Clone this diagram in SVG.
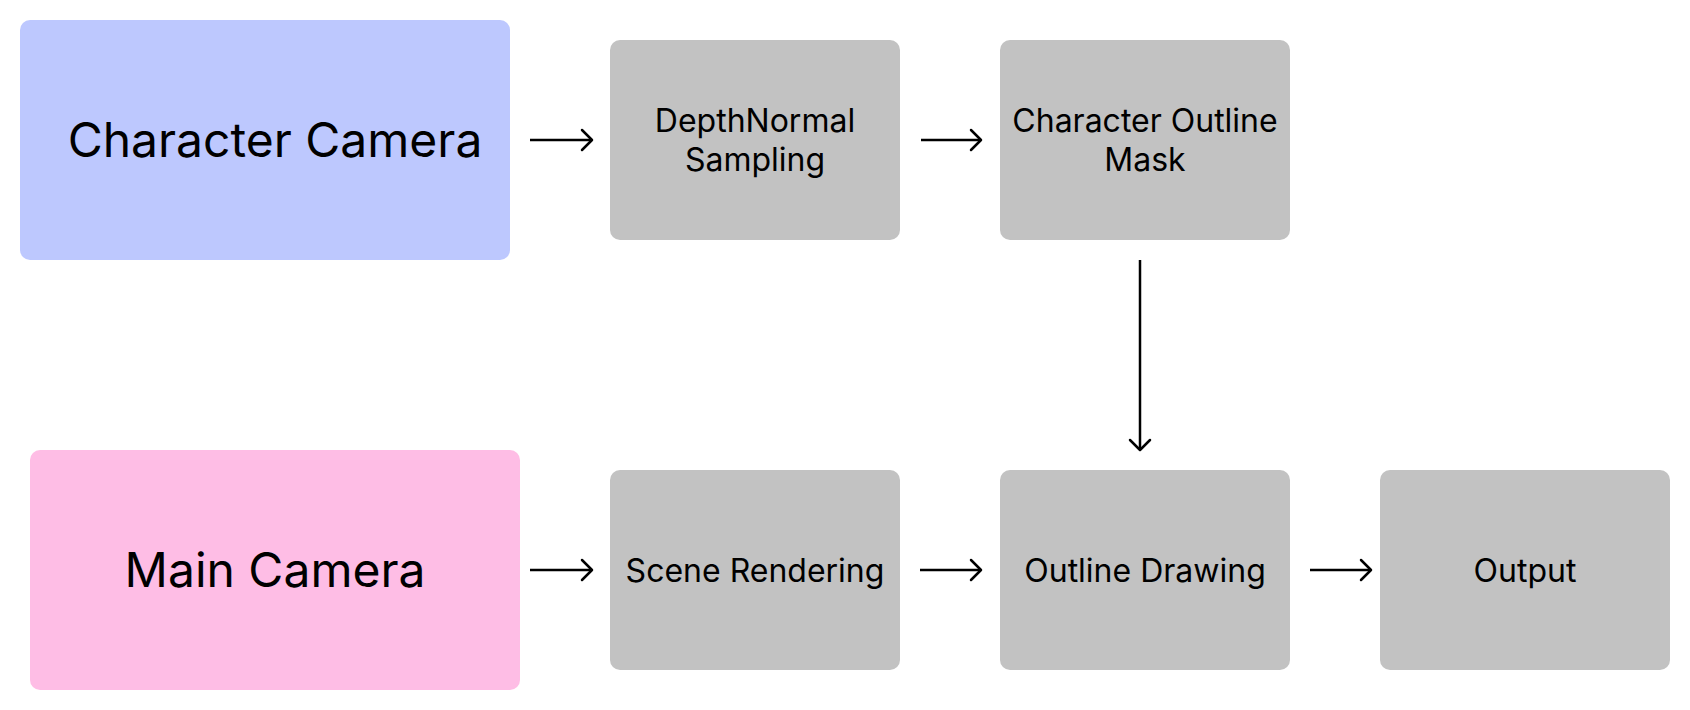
<svg xmlns="http://www.w3.org/2000/svg" width="1690" height="710" viewBox="0 0 1690 710">
<style>
.box{fill:#c2c2c2}
.cam1{fill:#bdc8fe}
.cam2{fill:#febde5}
.big{font-family:Inter,"Liberation Sans",sans-serif;font-size:48px;fill:#000;text-anchor:middle}
.sm{font-family:Inter,"Liberation Sans",sans-serif;font-size:32px;fill:#000;text-anchor:middle}
.conn{stroke:#000;stroke-width:2.5;fill:none}
.head{stroke:#000;stroke-width:2.5;fill:none;stroke-linecap:round;stroke-linejoin:round}
</style>
<rect width="1690" height="710" fill="#fff"/>
<g id="character-camera"><rect class="cam1" x="20" y="20" width="490" height="240" rx="10"/><text class="big" x="275" y="157">Character Camera</text></g>
<g id="main-camera"><rect class="cam2" x="30" y="450" width="490" height="240" rx="10"/><text class="big" x="275" y="587">Main Camera</text></g>
<g id="depthnormal"><rect class="box" x="610" y="40" width="290" height="200" rx="10"/><text class="sm" x="755" y="132">DepthNormal</text><text class="sm" x="755" y="171">Sampling</text></g>
<g id="outline-mask"><rect class="box" x="1000" y="40" width="290" height="200" rx="10"/><text class="sm" x="1145" y="132">Character Outline</text><text class="sm" x="1145" y="171">Mask</text></g>
<g id="scene-rendering"><rect class="box" x="610" y="470" width="290" height="200" rx="10"/><text class="sm" x="755" y="582">Scene Rendering</text></g>
<g id="outline-drawing"><rect class="box" x="1000" y="470" width="290" height="200" rx="10"/><text class="sm" x="1145" y="582">Outline Drawing</text></g>
<g id="output"><rect class="box" x="1380" y="470" width="290" height="200" rx="10"/><text class="sm" x="1525" y="582">Output</text></g>
<g id="connectors">
<path class="conn" d="M530 140H592"/><path class="head" d="M582 130L592 140L582 150"/>
<path class="conn" d="M921 140H981"/><path class="head" d="M971 130L981 140L971 150"/>
<path class="conn" d="M530 570H592"/><path class="head" d="M582 560L592 570L582 580"/>
<path class="conn" d="M920 570H981"/><path class="head" d="M971 560L981 570L971 580"/>
<path class="conn" d="M1310 570H1371"/><path class="head" d="M1361 560L1371 570L1361 580"/>
<path class="conn" d="M1140 260V450"/><path class="head" d="M1130 440L1140 450L1150 440"/>
</g>
</svg>
